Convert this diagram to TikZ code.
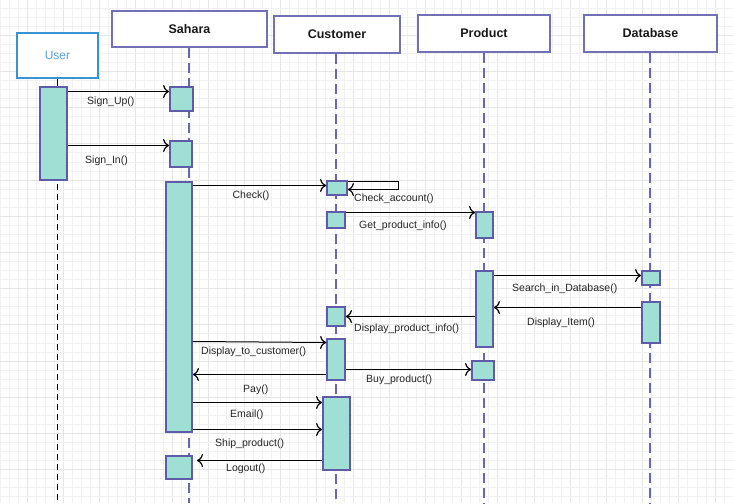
\documentclass[tikz,border=0pt]{standalone}
\usepackage{fontspec}
\setmainfont{Liberation Sans}
\usetikzlibrary{arrows.meta}
\definecolor{gridminor}{HTML}{F1F1F1}
\definecolor{gridmajor}{HTML}{E6E6E6}
\definecolor{headline}{HTML}{7470B6}
\definecolor{actline}{HTML}{5E5BA8}
\definecolor{actfill}{HTML}{A0DFD3}
\definecolor{lifec}{HTML}{6A67B2}
\definecolor{userblue}{HTML}{3A93D6}
\definecolor{usertext}{HTML}{5A9FD6}
\tikzset{
  headbox/.style={draw=headline, fill=white, line width=1.8pt, inner sep=0pt, font=\fontsize{12.5}{14}\selectfont\bfseries, text=black!90},
  userbox/.style={draw=userblue, fill=white, line width=2pt, inner sep=0pt, font=\fontsize{12}{14}\selectfont, text=usertext},
  actbox/.style={draw=actline, fill=actfill, line width=1.8pt, inner sep=0pt},
  lifeline/.style={draw=lifec, line width=2pt, dash pattern=on 10pt off 5pt},
  userlife/.style={draw=black, line width=0.9pt, dash pattern=on 6pt off 4pt},
  msg/.style={draw=black, line width=1pt, -{Computer Modern Rightarrow[length=6pt,width=13pt,line width=1.2pt]}},
  lbl/.style={anchor=west, inner sep=0pt, font=\fontsize{10.5}{12}\selectfont, text=black!85}
}
\begin{document}
\begin{tikzpicture}[x=1pt,y=-1pt]
\useasboundingbox (0,0) rectangle (733,503);
\fill[white] (0,0) rectangle (733,503);
% grid
\foreach \i in {0,...,81} {
  \pgfmathsetmacro{\xx}{9.05*\i}
  \pgfmathtruncatemacro{\mm}{mod(\i,4)}
  \ifnum\mm=3 \draw[gridmajor, line width=0.7pt] (\xx,0) -- (\xx,503);
  \else \draw[gridminor, line width=0.7pt] (\xx,0) -- (\xx,503); \fi
}
\foreach \i in {0,...,55} {
  \pgfmathsetmacro{\yy}{8+9.05*\i}
  \pgfmathtruncatemacro{\mm}{mod(\i,4)}
  \ifnum\mm=3 \draw[gridmajor, line width=0.7pt] (0,\yy) -- (733,\yy);
  \else \draw[gridminor, line width=0.7pt] (0,\yy) -- (733,\yy); \fi
}
% heads
\node[userbox, minimum width=81pt, minimum height=45pt] (user) at (57.5,55.5) {User};
\node[headbox, minimum width=155pt, minimum height=36pt] (sahara) at (189.5,29) {Sahara};
\node[headbox, minimum width=126pt, minimum height=37pt] (customer) at (337,34.5) {Customer};
\node[headbox, minimum width=132pt, minimum height=37pt] (product) at (484,33.5) {Product};
\node[headbox, minimum width=133pt, minimum height=37pt] (database) at (650.5,33.5) {Database};
% lifelines
\coordinate (sahEnd) at (188.5,503);
\coordinate (cusEnd) at (336,503);
\coordinate (proEnd) at (483.5,503);
\coordinate (dbEnd) at (650,503);
\draw[lifeline] (sahara.south -| sahEnd) -- (sahEnd);
\draw[lifeline] (customer.south -| cusEnd) -- (cusEnd);
\draw[lifeline] (product.south -| proEnd) -- (proEnd);
\draw[lifeline] (database.south -| dbEnd) -- (dbEnd);
% user activation + lifeline
\node[actbox, minimum width=27pt, minimum height=93pt] (ua) at (53.5,133.5) {};
\coordinate (userEnd) at (57.5,503);
\draw[black, line width=0.9pt] (user.south -| userEnd) -- (ua.north -| userEnd);
\draw[userlife] (57.5,184) -- (userEnd);
% Sahara activations
\node[actbox, minimum width=23pt, minimum height=24pt] (s1) at (181.5,99) {};
\node[actbox, minimum width=22pt, minimum height=26pt] (s2) at (181,154) {};
\node[actbox, minimum width=26pt, minimum height=250pt] (s3) at (179,307) {};
\node[actbox, minimum width=26pt, minimum height=23pt] (s4) at (179,467.5) {};
% Customer activations
\node[actbox, minimum width=20pt, minimum height=14pt] (c1) at (337,188) {};
\node[actbox, minimum width=18pt, minimum height=16pt] (c2) at (336,220) {};
\node[actbox, minimum width=18pt, minimum height=19pt] (c3) at (336,316.5) {};
\node[actbox, minimum width=18pt, minimum height=41pt] (c4) at (336,359.5) {};
\node[actbox, minimum width=27pt, minimum height=73pt] (c5) at (336.5,433.5) {};
% Product activations
\node[actbox, minimum width=17pt, minimum height=26pt] (p1) at (484.5,225) {};
\node[actbox, minimum width=17pt, minimum height=76pt] (p2) at (484.5,309) {};
\node[actbox, minimum width=22pt, minimum height=19pt] (p3) at (483,370.5) {};
% Database activations
\node[actbox, minimum width=18pt, minimum height=14pt] (d1) at (651,278) {};
\node[actbox, minimum width=18pt, minimum height=41pt] (d2) at (651,322.5) {};
% messages
\draw[msg] (ua.east |- 0,91.5) -- (s1.west |- 0,91.5);
\draw[msg] (ua.east |- 0,145.5) -- (s2.west |- 0,145.5);
\draw[msg] (s3.east |- 0,185.5) -- (c1.west |- 0,185.5);
\coordinate (loopA) at (398.5,181.5);
\coordinate (loopB) at (398.5,189.5);
\draw[msg] (c1.east |- loopA) -- (loopA) -- (loopB) -- (c1.east |- loopB);
\draw[msg] (c2.east |- 0,212.5) -- (p1.west |- 0,212.5);
\draw[msg] (p2.east |- 0,275.5) -- (d1.west |- 0,275.5);
\draw[msg] (d2.west |- 0,307.5) -- (p2.east |- 0,307.5);
\draw[msg] (p2.west |- 0,316.5) -- (c3.east |- 0,316.5);
\draw[msg] (s3.east |- 0,341.5) -- (c4.west |- 0,342.5);
\draw[msg] (c4.west |- 0,374.5) -- (s3.east |- 0,374.5);
\draw[msg] (c4.east |- 0,369.5) -- (p3.west |- 0,369.5);
\draw[msg] (s3.east |- 0,402.5) -- (c5.west |- 0,402.5);
\draw[msg] (s3.east |- 0,429.5) -- (c5.west |- 0,429.5);
\coordinate (shipEnd) at (197,460.5);
\draw[msg] (c5.west |- shipEnd) -- (shipEnd);
% labels
\node[lbl] (l1) at (87,101.5) {Sign\_Up()};
\node[lbl] (l2) at (85,160.5) {Sign\_In()};
\node[lbl, anchor=center] (l3) at (251,196) {Check()};
\node[lbl] (l4) at (354,198.5) {Check\_account()};
\node[lbl] (l5) at (359,225.5) {Get\_product\_info()};
\node[lbl] (l6) at (512,288.5) {Search\_in\_Database()};
\node[lbl] (l7) at (527,322.5) {Display\_Item()};
\node[lbl] (l8) at (354,328.5) {Display\_product\_info()};
\node[lbl] (l9) at (201,351.5) {Display\_to\_customer()};
\node[lbl] (l10) at (366,379.5) {Buy\_product()};
\node[lbl] (l11) at (243,389.5) {Pay()};
\node[lbl] (l12) at (230,414.5) {Email()};
\node[lbl] (l13) at (215,443.5) {Ship\_product()};
\node[lbl] (l14) at (226,468.5) {Logout()};
\end{tikzpicture}
\end{document}
